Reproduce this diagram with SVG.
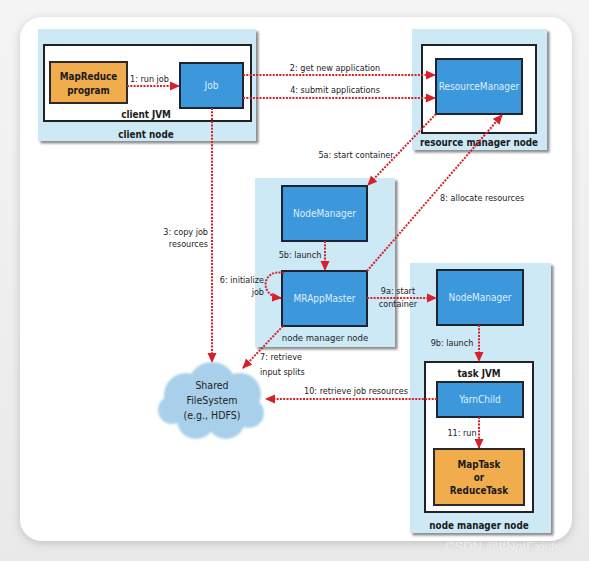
<svg xmlns="http://www.w3.org/2000/svg" width="589" height="561" viewBox="0 0 589 561">
<defs>
<linearGradient id="bg" x1="0" y1="0" x2="0" y2="1"><stop offset="0" stop-color="#f4f4f4"/><stop offset="1" stop-color="#e9e9e9"/></linearGradient>
<filter id="card" x="-5%" y="-5%" width="110%" height="110%"><feDropShadow dx="0" dy="2" stdDeviation="4" flood-color="#000" flood-opacity="0.18"/></filter>
<filter id="sh" x="-5%" y="-5%" width="112%" height="112%"><feDropShadow dx="2.5" dy="2.5" stdDeviation="1.2" flood-color="#000" flood-opacity="0.45"/></filter>
<filter id="soft" x="-10%" y="-10%" width="120%" height="120%"><feGaussianBlur stdDeviation="1.2"/></filter>
<marker id="ah" markerUnits="userSpaceOnUse" markerWidth="10" markerHeight="10" refX="9" refY="5" orient="auto" viewBox="0 0 10 10"><path d="M0,0.5 L10,5 L0,9.5 z" fill="#d8202a"/></marker>
<style>
text{font-family:"DejaVu Sans Condensed","Liberation Sans Narrow","Liberation Sans",sans-serif;font-stretch:condensed}
.node{fill:#cde9f6;filter:url(#sh)}
.jvm{fill:#fff;stroke:#222;stroke-width:2}
.blue{fill:#3d97db;stroke:#1c2430;stroke-width:2}
.orange{fill:#f1ad4d;stroke:#2a2a2a;stroke-width:2}
.wl{font-size:10px;fill:#dcefff;text-anchor:middle}
.bl{font-size:9.8px;font-weight:bold;fill:#1a1a1a;text-anchor:middle}
.lb{font-size:9px;fill:#222}
.c{stroke:#d8202a;stroke-width:2;stroke-dasharray:2 1.3;fill:none;marker-end:url(#ah)}
</style>
</defs>
<rect width="589" height="561" fill="url(#bg)"/>
<rect x="20" y="17" width="552" height="524" rx="22" fill="#fff" filter="url(#card)"/>

<g id="client-node">
<rect class="node" x="38" y="29" width="218" height="112"/>
<rect class="jvm" x="44" y="45" width="207" height="76"/>
<text class="bl" x="146" y="118">client JVM</text>
<text class="bl" x="146" y="138">client node</text>
</g>
<g id="mapreduce-program">
<rect class="orange" x="50" y="62" width="77" height="41"/>
<text class="bl" x="88.5" y="80">MapReduce</text>
<text class="bl" x="88.5" y="94">program</text>
</g>
<g id="job">
<rect class="blue" x="180" y="63" width="63" height="45"/>
<text class="wl" x="211.5" y="89">Job</text>
</g>

<g id="resource-manager-node">
<rect class="node" x="412" y="29" width="135" height="121"/>
<rect class="jvm" x="422" y="45" width="114" height="88"/>
<text class="bl" x="479" y="146">resource manager node</text>
</g>
<g id="resource-manager">
<rect class="blue" x="436" y="59" width="86" height="55"/>
<text class="wl" x="479" y="90">ResourceManager</text>
</g>

<g id="node-manager-node-1">
<rect class="node" x="255" y="178" width="140" height="169"/>
<text class="lb" x="325" y="341" text-anchor="middle" style="font-size:9.5px">node manager node</text>
</g>
<g id="node-manager-1">
<rect class="blue" x="282" y="186" width="85" height="55"/>
<text class="wl" x="324.5" y="217">NodeManager</text>
</g>
<g id="mrappmaster">
<rect class="blue" x="282" y="271" width="85" height="55"/>
<text class="wl" x="324.5" y="302">MRAppMaster</text>
</g>

<g id="node-manager-node-2">
<rect class="node" x="410" y="263" width="141" height="270"/>
<rect class="jvm" x="425" y="362" width="108" height="150"/>
<text class="bl" x="479" y="377">task JVM</text>
<text class="bl" x="479" y="529">node manager node</text>
</g>
<g id="node-manager-2">
<rect class="blue" x="437" y="270" width="86" height="55"/>
<text class="wl" x="480" y="301">NodeManager</text>
</g>
<g id="yarnchild">
<rect class="blue" x="437" y="382" width="86" height="35"/>
<text class="wl" x="480" y="403">YarnChild</text>
</g>
<g id="task">
<rect class="orange" x="434" y="449" width="90" height="56"/>
<text class="bl" x="479" y="468">MapTask</text>
<text class="bl" x="479" y="481">or</text>
<text class="bl" x="479" y="494">ReduceTask</text>
</g>

<g id="shared-filesystem">
<g fill="#a9d0ea" filter="url(#soft)">
<circle cx="186" cy="395" r="22"/>
<circle cx="212" cy="386" r="24"/>
<circle cx="240" cy="394" r="21"/>
<circle cx="249" cy="413" r="15"/>
<circle cx="226" cy="420" r="19"/>
<circle cx="196" cy="420" r="19"/>
<circle cx="172" cy="410" r="14"/>
</g>
<text class="lb" x="212" y="389" text-anchor="middle" style="font-size:10.5px">Shared</text>
<text class="lb" x="212" y="404" text-anchor="middle" style="font-size:10.5px">FileSystem</text>
<text class="lb" x="212" y="419" text-anchor="middle" style="font-size:10.5px">(e.g., HDFS)</text>
</g>

<g id="connectors">
<path class="c" d="M127,86 L179,86"/>
<path class="c" d="M243,75 L435,75"/>
<path class="c" d="M243,98 L435,98"/>
<path class="c" d="M212,108 L212,362"/>
<path class="c" d="M436,114 L368,185"/>
<path class="c" d="M367,271 L502,115"/>
<path class="c" d="M325,241 L325,270"/>
<path class="c" d="M284,273 C262,268 258,296 281,298"/>
<path class="c" d="M367,298 L436,298"/>
<path class="c" d="M283,326 L243,368"/>
<path class="c" d="M479,325 L479,361"/>
<path class="c" d="M479,417 L479,448"/>
<path class="c" d="M437,399 L266,399"/>
<text class="lb" x="130" y="82">1: run job</text>
<text class="lb" x="335" y="71" text-anchor="middle">2: get new application</text>
<text class="lb" x="335" y="93" text-anchor="middle">4: submit applications</text>
<text class="lb" x="208" y="235" text-anchor="end">3: copy job</text>
<text class="lb" x="208" y="247" text-anchor="end">resources</text>
<text class="lb" x="356" y="158" text-anchor="middle">5a: start container</text>
<text class="lb" x="440" y="201">8: allocate resources</text>
<text class="lb" x="300" y="258" text-anchor="middle">5b: launch</text>
<text class="lb" x="264" y="283" text-anchor="end">6: initialize</text>
<text class="lb" x="264" y="295" text-anchor="end">job</text>
<text class="lb" x="398" y="294" text-anchor="middle">9a: start</text>
<text class="lb" x="398" y="307" text-anchor="middle">container</text>
<text class="lb" x="260" y="360">7: retrieve</text>
<text class="lb" x="260" y="375">input splits</text>
<text class="lb" x="452" y="346" text-anchor="middle">9b: launch</text>
<text class="lb" x="462" y="436" text-anchor="middle">11: run</text>
<text class="lb" x="356" y="394" text-anchor="middle">10: retrieve job resources</text>
</g>
<text x="503" y="551" text-anchor="middle" style="font-family:'Liberation Sans',sans-serif;font-stretch:normal;font-size:13px" fill="#ffffff" fill-opacity="0.85" stroke="#d8d8d8" stroke-width="0.3">CSDN @IfNotExists</text>
</svg>
